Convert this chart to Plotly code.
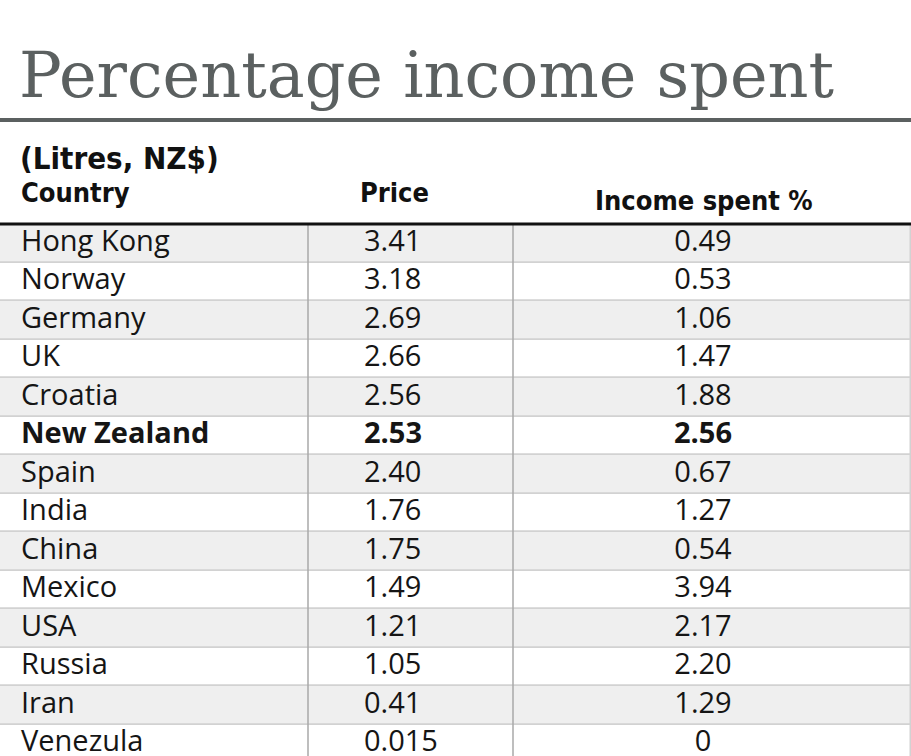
import plotly.graph_objects as go

# table content
countries = ["Hong Kong", "Norway", "Germany", "UK", "Croatia", "New Zealand", "Spain",
             "India", "China", "Mexico", "USA", "Russia", "Iran", "Venezula"]
price = [3.41, 3.18, 2.69, 2.66, 2.56, 2.53, 2.40, 1.76, 1.75, 1.49, 1.21, 1.05, 0.41, 0.015]
income_spent = [0.49, 0.53, 1.06, 1.47, 1.88, 2.56, 0.67, 1.27, 0.54, 3.94, 2.17, 2.20, 1.29, 0]
highlight = "New Zealand"

title = "Percentage income spent"
subtitle = "(Litres, NZ$)"
col_headers = ["Country", "Price", "Income spent %"]

W, H = 911, 756
TABLE_TOP = 224
ROW_H = 38.5

BODY_FONT = "Open Sans, Lato, sans-serif"
HEAD_FONT = "DejaVu Sans Condensed, Liberation Sans Narrow, Liberation Sans, sans-serif"


def fmt(v):
    if v == 0:
        return "0"
    s = f"{v:.2f}"
    if float(s) != v:
        s = f"{v:.3f}"
    return s


def bold_if(label, country):
    return f"<b>{label}</b>" if country == highlight else label


def px_x(p):
    return p / W


def px_y(p):
    return 1 - p / H


rows = list(range(len(countries)))
n_visible = (H - TABLE_TOP) / ROW_H

fig = go.Figure()

# row bands
fig.add_trace(go.Bar(
    y=rows, x=[1.05] * len(rows), base=-0.05, orientation="h", width=1,
    marker=dict(color=["#efefef" if i % 2 == 0 else "#ffffff" for i in rows],
                line=dict(color="#d2d2d2", width=1.5)),
    hoverinfo="skip", showlegend=False,
))

body = dict(family=BODY_FONT, size=29, color="#151515")
fig.add_trace(go.Scatter(
    x=[px_x(21)] * len(rows), y=rows, mode="text",
    text=[bold_if(c, c) for c in countries], textposition="middle right",
    textfont=body, hoverinfo="skip", showlegend=False,
))
fig.add_trace(go.Scatter(
    x=[px_x(364)] * len(rows), y=rows, mode="text",
    text=[bold_if(fmt(p), c) for p, c in zip(price, countries)], textposition="middle right",
    textfont=body, hoverinfo="skip", showlegend=False,
))
fig.add_trace(go.Scatter(
    x=[px_x(703)] * len(rows), y=rows, mode="text",
    text=[bold_if(fmt(v), c) for v, c in zip(income_spent, countries)], textposition="middle center",
    textfont=body, hoverinfo="skip", showlegend=False,
))

table_top_paper = 1 - TABLE_TOP / H

# column dividers
for xpos in [px_x(308), px_x(513)]:
    fig.add_shape(type="line", xref="x", yref="paper", x0=xpos, x1=xpos,
                  y0=0, y1=table_top_paper, line=dict(color="#a9a9a9", width=1.5))

# black rule on top of table, grey rule under title
fig.add_shape(type="line", xref="paper", yref="paper", x0=-0.05, x1=1.05,
              y0=table_top_paper, y1=table_top_paper, line=dict(color="#111111", width=3))
fig.add_shape(type="line", xref="paper", yref="paper", x0=-0.05, x1=1.05,
              y0=px_y(120), y1=px_y(120), line=dict(color="#5b6060", width=4))

fig.add_annotation(text=title, xref="paper", yref="paper", x=px_x(17), y=px_y(75),
                   xanchor="left", yanchor="middle", showarrow=False,
                   font=dict(family="DejaVu Serif, serif", size=63.6, color="#5b6060"))
fig.add_annotation(text=f"<b>{subtitle}</b>", xref="paper", yref="paper", x=px_x(18), y=px_y(158),
                   xanchor="left", yanchor="middle", showarrow=False,
                   font=dict(family=HEAD_FONT, size=31, color="#111111"))
for txt, xp, yp, anchor in zip(col_headers, [19, 394, 704], [192, 192, 201],
                               ["left", "center", "center"]):
    fig.add_annotation(text=f"<b>{txt}</b>", xref="paper", yref="paper", x=px_x(xp), y=px_y(yp),
                       xanchor=anchor, yanchor="middle", showarrow=False,
                       font=dict(family=HEAD_FONT, size=27, color="#111111"))

fig.update_layout(
    width=W, height=H, margin=dict(l=0, r=0, t=0, b=0),
    paper_bgcolor="white", plot_bgcolor="white",
    bargap=0,
    xaxis=dict(range=[0, 1], visible=False, fixedrange=True),
    yaxis=dict(range=[n_visible - 0.5, -0.5], domain=[0, table_top_paper],
               visible=False, fixedrange=True),
)

# drop the default page margin so the table runs edge to edge
fig.write_html("out.html", config={"displayModeBar": False},
               post_script="document.body.style.margin = '0';")
